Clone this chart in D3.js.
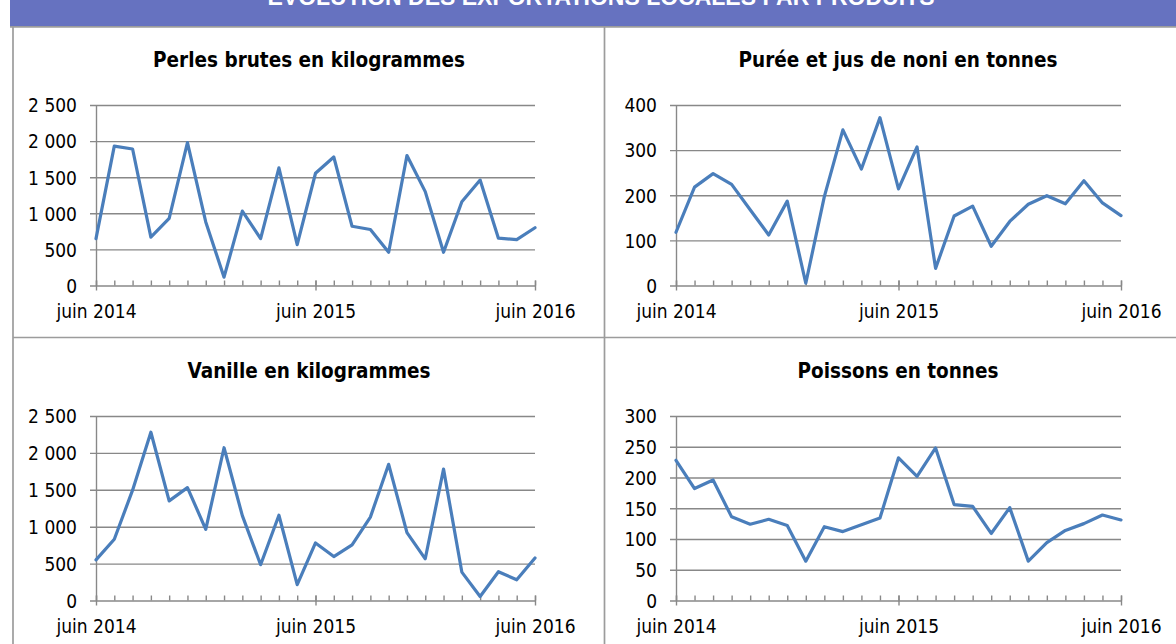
<!DOCTYPE html>
<html>
<head>
<meta charset="utf-8">
<script src="https://cdn.jsdelivr.net/npm/d3@7"></script>
<style>
  html, body { margin: 0; padding: 0; background: #fff; }
  svg { display: block; }
</style>
</head>
<body>
<div id="chart"></div>
<script>
// Monthly exports, juin 2014 -> juin 2016 (25 months)
const months = [
  "2014-06", "2014-07", "2014-08", "2014-09", "2014-10", "2014-11", "2014-12",
  "2015-01", "2015-02", "2015-03", "2015-04", "2015-05", "2015-06", "2015-07",
  "2015-08", "2015-09", "2015-10", "2015-11", "2015-12", "2016-01", "2016-02",
  "2016-03", "2016-04", "2016-05", "2016-06"
];
const majorMonths = ["2014-06", "2015-06", "2016-06"];
const majorLabels = ["juin 2014", "juin 2015", "juin 2016"];

const perles = [650, 1930, 1890, 670, 930, 1980, 880, 115, 1030, 650, 1630, 565,
  1555, 1780, 820, 775, 460, 1800, 1300, 460, 1160, 1460, 655, 635, 800];
const noni = [118, 218, 248, 224, 168, 112, 187, 5, 197, 345, 258, 372,
  214, 307, 38, 154, 176, 87, 142, 180, 199, 181, 232, 183, 155];
const vanille = [550, 830, 1495, 2280, 1350, 1530, 965, 2070, 1150, 485, 1155, 215,
  780, 595, 755, 1130, 1845, 920, 565, 1780, 385, 55, 390, 280, 575];
const poissons = [228, 182, 196, 136, 124, 132, 122, 64, 120, 112, 123, 134,
  232, 202, 248, 156, 153, 109, 151, 64, 94, 114, 125, 139, 131];

const pageTitle = "ÉVOLUTION DES EXPORTATIONS LOCALES PAR PRODUITS";

const panels = [
  { title: "Perles brutes en kilogrammes", values: perles, yMax: 2500, yStep: 500,
    box: { left: 96, right: 535, top: 105, bottom: 285.5, titleX: 309, titleY: 67 } },
  { title: "Purée et jus de noni en tonnes", values: noni, yMax: 400, yStep: 100,
    box: { left: 676, right: 1121, top: 105, bottom: 285.5, titleX: 898, titleY: 67 } },
  { title: "Vanille en kilogrammes", values: vanille, yMax: 2500, yStep: 500,
    box: { left: 96, right: 535, top: 416, bottom: 600.5, titleX: 309, titleY: 378 } },
  { title: "Poissons en tonnes", values: poissons, yMax: 300, yStep: 50,
    box: { left: 676, right: 1121, top: 416, bottom: 600.5, titleX: 898, titleY: 378 } },
];

const width = 1176;
const height = 644;
const gridColor = "#888";
const lineColor = "#4a7ebb";
const frameColor = "#9c9c9c";
const font = "'DejaVu Sans Condensed', 'Noto Sans', sans-serif";

const fr = d3.formatLocale({ decimal: ",", thousands: " ", grouping: [3], currency: ["", " €"] });
const fmt = fr.format(",d");

const svg = d3.select("#chart").append("svg")
  .attr("width", width).attr("height", height)
  .attr("viewBox", `0 0 ${width} ${height}`);

// title bar (cropped at the top in the reference)
svg.append("rect").attr("x", 10).attr("y", 0).attr("width", width - 10).attr("height", 26)
  .attr("fill", "#6672c0");
svg.append("text").attr("x", 601).attr("y", 5).attr("text-anchor", "middle")
  .style("font", "bold 23px 'Liberation Sans', Arial, sans-serif")
  .attr("fill", "#fff").text(pageTitle);

// frame lines
const frame = svg.append("g").attr("stroke", frameColor).attr("stroke-width", 1.7).attr("fill", "none");
frame.append("line").attr("x1", 10).attr("x2", width).attr("y1", 26.8).attr("y2", 26.8);
frame.append("line").attr("x1", 13).attr("x2", 13).attr("y1", 27).attr("y2", height);
frame.append("line").attr("x1", 604.5).attr("x2", 604.5).attr("y1", 27).attr("y2", height);
frame.append("line").attr("x1", 13).attr("x2", width).attr("y1", 337.5).attr("y2", 337.5);

panels.forEach((p) => {
  const b = p.box;
  const g = svg.append("g");

  const x = d3.scalePoint().domain(months).range([b.left, b.right]);
  const y = d3.scaleLinear().domain([0, p.yMax]).range([b.bottom, b.top]);
  const yTicks = d3.range(0, p.yMax + p.yStep / 2, p.yStep);

  g.append("text").attr("x", b.titleX).attr("y", b.titleY).attr("text-anchor", "middle")
    .style("font", `bold 20.5px ${font}`).attr("fill", "#000").text(p.title);

  // y axis + gridlines
  const yAxis = g.append("g").attr("transform", `translate(${b.left},0)`)
    .call(d3.axisLeft(y).tickValues(yTicks).tickSizeInner(-(b.right - b.left)).tickSizeOuter(0)
      .tickPadding(19).tickFormat(fmt));
  yAxis.select(".domain").attr("stroke", gridColor).attr("stroke-width", 1.4);
  yAxis.selectAll(".tick line").attr("x1", -6).attr("stroke", gridColor).attr("stroke-width", 1.4);
  yAxis.selectAll(".tick text").style("font", `19px ${font}`).attr("fill", "#000").attr("dy", "0.36em");

  // minor month ticks (inside)
  const minor = g.append("g").attr("transform", `translate(0,${b.bottom})`)
    .call(d3.axisBottom(x).tickValues(months).tickSize(-5).tickFormat(""));
  minor.select(".domain").remove();
  minor.selectAll(".tick line").attr("stroke", gridColor).attr("stroke-width", 1.4);

  // major yearly ticks (cross) with labels
  const major = g.append("g").attr("transform", `translate(0,${b.bottom})`)
    .call(d3.axisBottom(x).tickValues(majorMonths).tickSize(5)
      .tickFormat((d) => majorLabels[majorMonths.indexOf(d)]));
  major.select(".domain").remove();
  major.selectAll(".tick line").attr("y1", -5).attr("stroke", gridColor).attr("stroke-width", 1.4);
  major.selectAll(".tick text").attr("y", 32).attr("dy", 0)
    .style("font", `19px ${font}`).attr("fill", "#000");

  const line = d3.line().x((d, i) => x(months[i])).y((d) => y(d));
  g.append("path").datum(p.values)
    .attr("fill", "none").attr("stroke", lineColor).attr("stroke-width", 3.2)
    .attr("stroke-linejoin", "round").attr("stroke-linecap", "round")
    .attr("d", line);
});
</script>
</body>
</html>
